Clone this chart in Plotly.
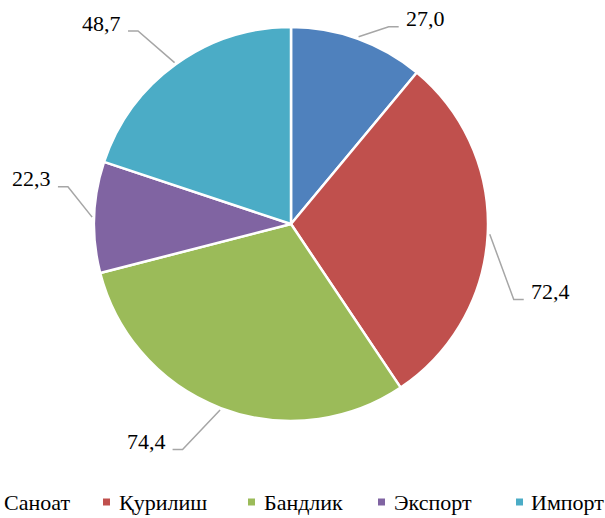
import numpy as np
import plotly.graph_objects as go

# data
categories = ['Саноат', 'Қурилиш', 'Бандлик', 'Экспорт', 'Импорт']
values = [27.0, 72.4, 74.4, 22.3, 48.7]
value_labels = ['27,0', '72,4', '74,4', '22,3', '48,7']

colors = ['#4F81BD', '#C0504D', '#9BBB59', '#8064A2', '#4BACC6']

W, H = 605, 518
CX, CY, R = 291, 224, 197          # pie centre / radius in px
FONT = 'Liberation Serif'

# leader-line elbow placement: (radius factor, angle shift in degrees from slice middle)
elbows = [(1.117, 6.5), (1.194, 15.8), (1.27, 4.8), (1.148, 7.5), (1.25, -2.6)]


def to_paper(px, py):
    return px / W, 1 - py / H


def polar(r, ang):
    a = np.radians(ang)
    return CX + r * np.sin(a), CY - r * np.cos(a)


fig = go.Figure(go.Pie(
    labels=categories,
    values=values,
    sort=False,
    direction='clockwise',
    rotation=0,
    marker=dict(colors=colors, line=dict(color='white', width=2.5)),
    textinfo='none',
    hoverinfo='label+value',
    showlegend=False,
    domain=dict(x=[(CX - R) / W, (CX + R) / W], y=[1 - (CY + R) / H, 1 - (CY - R) / H]),
))

# labels with leader lines, placed from the slice angles
total = sum(values)
cum = np.cumsum([0] + values)
shapes = []
annotations = []
for i, v in enumerate(values):
    mid = (cum[i] + cum[i + 1]) / 2 / total * 360
    sx, sy = polar(R + 2, mid)
    rf, shift = elbows[i]
    ex, ey = polar(R * rf, mid + shift)
    right = (mid % 360) < 180
    hx = ex + (10 if right else -10)
    pts = [to_paper(sx, sy), to_paper(ex, ey), to_paper(hx, ey)]
    path = 'M {} {} L {} {} L {} {}'.format(*[c for p in pts for c in p])
    shapes.append(dict(type='path', path=path, xref='paper', yref='paper',
                       line=dict(color='#A6A6A6', width=1.5)))
    tx, ty = to_paper(hx + (5 if right else -5), ey - 8)
    annotations.append(dict(x=tx, y=ty, xref='paper', yref='paper', showarrow=False,
                            text=value_labels[i], xanchor='left' if right else 'right',
                            yanchor='middle', font=dict(family=FONT, size=22, color='#000000')))

# legend drawn by hand (first marker falls off the left edge, as in the original)
legend_marker_x = [-12, 103, 248, 378, 516]
legend_text_x = [2, 117, 262, 392, 529]
LEG_Y = 502
for i, name in enumerate(categories):
    x0, y0 = to_paper(legend_marker_x[i], LEG_Y - 3.5)
    x1, y1 = to_paper(legend_marker_x[i] + 7, LEG_Y + 3.5)
    shapes.append(dict(type='rect', xref='paper', yref='paper', x0=x0, x1=x1, y0=y0, y1=y1,
                       fillcolor=colors[i], line=dict(width=0)))
    tx, ty = to_paper(legend_text_x[i], LEG_Y)
    annotations.append(dict(x=tx, y=ty, xref='paper', yref='paper', showarrow=False,
                            text=name, xanchor='left', yanchor='middle',
                            font=dict(family=FONT, size=22, color='#000000')))

fig.update_layout(
    width=W, height=H,
    margin=dict(l=0, r=0, t=0, b=0),
    paper_bgcolor='white',
    plot_bgcolor='white',
    shapes=shapes,
    annotations=annotations,
    showlegend=False,
)

fig.write_html('out.html', config={'displayModeBar': False},
               post_script="document.body.style.margin='0';document.body.style.overflow='hidden';")
